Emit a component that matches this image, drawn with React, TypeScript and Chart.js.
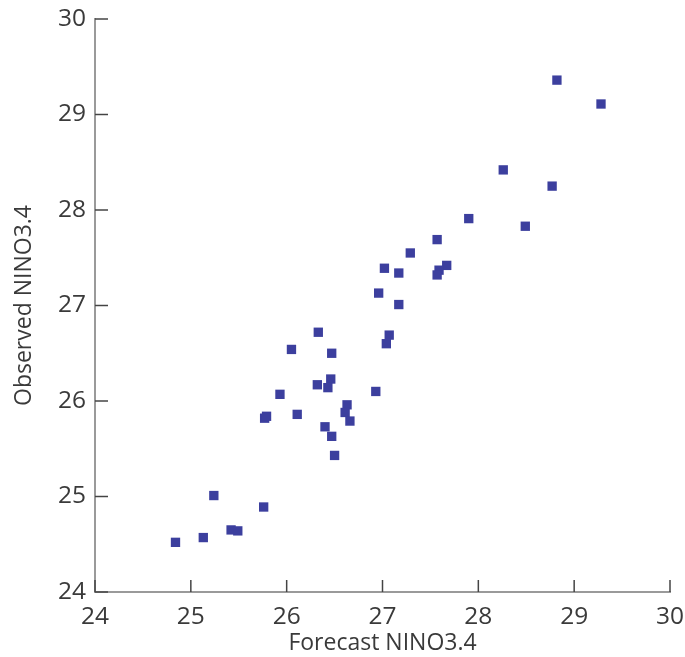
import React, { useEffect, useRef } from "react";
import { Chart, registerables } from "chart.js";

Chart.register(...registerables);

const forecast = [
  24.84, 25.13, 25.42, 25.49, 25.24, 25.76, 25.77, 25.79, 25.93, 26.11,
  26.05, 26.33, 26.47, 26.46, 26.32, 26.43, 26.63, 26.61, 26.66, 26.40,
  26.47, 26.50, 26.93, 26.96, 27.04, 27.07, 27.17, 27.02, 27.17, 27.29,
  27.57, 27.67, 27.59, 27.57, 27.90, 28.49, 28.26, 28.77, 28.82, 29.28,
];
const observed = [
  24.52, 24.57, 24.65, 24.64, 25.01, 24.89, 25.82, 25.84, 26.07, 25.86,
  26.54, 26.72, 26.50, 26.23, 26.17, 26.14, 25.96, 25.88, 25.79, 25.73,
  25.63, 25.43, 26.10, 27.13, 26.60, 26.69, 27.01, 27.39, 27.34, 27.55,
  27.69, 27.42, 27.37, 27.32, 27.91, 27.83, 28.42, 28.25, 29.36, 29.11,
];
const tickValues = [24, 25, 26, 27, 28, 29, 30];
const xTitle = "Forecast NINO3.4";
const yTitle = "Observed NINO3.4";

const FONT = "'Open Sans', 'Noto Sans', sans-serif";
const TEXT = "#3a3a3a";

const innerTicks = {
  id: "innerTicks",
  afterDraw(chart: any) {
    const { ctx, scales, chartArea } = chart;
    ctx.save();
    ctx.strokeStyle = "#444";
    ctx.lineWidth = 1.5;
    tickValues.forEach((v) => {
      const px = scales.x.getPixelForValue(v);
      ctx.beginPath();
      ctx.moveTo(px, chartArea.bottom);
      ctx.lineTo(px, chartArea.bottom - 12);
      ctx.stroke();
      const py = scales.y.getPixelForValue(v);
      ctx.beginPath();
      ctx.moveTo(chartArea.left, py);
      ctx.lineTo(chartArea.left + 13, py);
      ctx.stroke();
    });
    ctx.restore();
  },
};

const clearPad = (s: any) => {
  s.paddingLeft = 0;
  s.paddingRight = 0;
  s.paddingTop = 0;
  s.paddingBottom = 0;
};

export default function App() {
  const ref = useRef<HTMLCanvasElement | null>(null);
  useEffect(() => {
    document.body.style.margin = "0";
    const data = forecast.map((x, i) => ({ x, y: observed[i] }));
    const chart = new Chart(ref.current as HTMLCanvasElement, {
      type: "scatter",
      data: {
        datasets: [
          {
            data,
            pointStyle: "rect",
            pointRadius: 6.6,
            pointHoverRadius: 6.6,
            backgroundColor: "#3c3f9e",
            borderWidth: 0,
          },
        ],
      },
      options: {
        animation: false,
        responsive: false,
        layout: { padding: { top: 19, right: 15, left: 0, bottom: 0 } },
        plugins: { legend: { display: false }, tooltip: { enabled: false } },
        scales: {
          x: {
            type: "linear",
            min: 24,
            max: 30,
            afterFit: (s: any) => { s.height = 65; clearPad(s); },
            afterBuildTicks: (s: any) => { s.ticks = tickValues.map((v) => ({ value: v })); },
            grid: { display: false, drawTicks: false },
            border: { display: true, color: "#9a9a9a", width: 2 },
            ticks: { color: TEXT, font: { family: FONT, size: 24.5 }, padding: 10, maxRotation: 0 },
            title: {
              display: true,
              text: xTitle,
              color: TEXT,
              font: { family: FONT, size: 23 },
              padding: { top: 0, bottom: 0 },
            },
          },
          y: {
            type: "linear",
            min: 24,
            max: 30,
            afterFit: (s: any) => { s.width = 95; clearPad(s); },
            afterBuildTicks: (s: any) => { s.ticks = tickValues.map((v) => ({ value: v })); },
            grid: { display: false, drawTicks: false },
            border: { display: true, color: "#9a9a9a", width: 2 },
            ticks: { color: TEXT, font: { family: FONT, size: 24.5 }, padding: 9 },
            title: {
              display: true,
              text: yTitle,
              color: TEXT,
              font: { family: FONT, size: 23 },
              padding: { top: 11, bottom: 0 },
            },
          },
        },
      },
      plugins: [innerTicks],
    });
    return () => chart.destroy();
  }, []);
  return (
    <div style={{ width: 685, height: 657 }}>
      <canvas ref={ref} width={685} height={657} />
    </div>
  );
}
